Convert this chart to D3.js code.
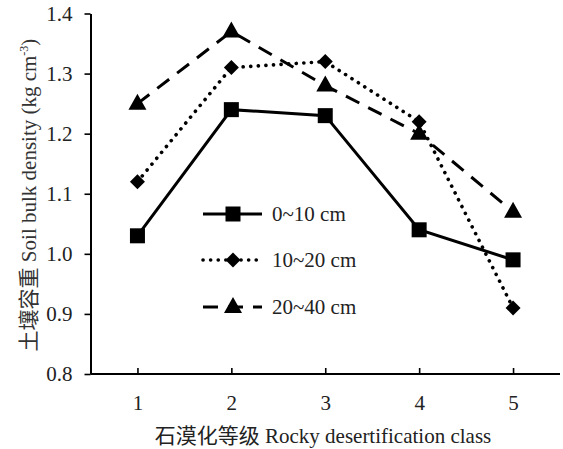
<!DOCTYPE html>
<html><head><meta charset="utf-8">
<script src="https://cdn.jsdelivr.net/npm/d3@7"></script>
<style>
body{margin:0;background:#fff;}
svg text{font-family:"Liberation Serif","Times New Roman","Noto Sans CJK SC",serif !important;}
</style></head>
<body>
<svg id="c" width="563" height="449"></svg>
<script>
const categories = ["1","2","3","4","5"];
const yTicks = [0.8,0.9,1.0,1.1,1.2,1.3,1.4];
const seriesNames = ["0~10 cm","10~20 cm","20~40 cm"];
const s0_10 = [1.03,1.24,1.23,1.04,0.99];
const s10_20 = [1.12,1.31,1.32,1.22,0.91];
const s20_40 = [1.25,1.37,1.28,1.20,1.07];
const xTitle = "石漠化等级 Rocky desertification class";

const FONT = '"Liberation Serif","Times New Roman","Noto Sans CJK SC",serif';
const svg = d3.select("#c");
const L=90.5, R=560, T=13.5, B=374;
const x = d3.scalePoint().domain(categories).range([L,R]).padding(0.5);
const y = d3.scaleLinear().domain([0.8,1.4]).range([B,T]);

const yAx = svg.append("g").attr("transform",`translate(${L},0)`)
  .call(d3.axisLeft(y).tickValues(yTicks).tickFormat(d3.format(".1f")).tickSize(6).tickSizeOuter(0));
const xAx = svg.append("g").attr("transform",`translate(0,${B})`)
  .call(d3.axisBottom(x).tickSize(-6).tickSizeOuter(0));
[yAx,xAx].forEach(g=>{
  g.attr("font-family",FONT);
  g.select(".domain").attr("stroke","#000").attr("stroke-width",2);
  g.selectAll(".tick line").attr("stroke","#000").attr("stroke-width",1.6);
  g.selectAll("text").style("font-size","21px").style("font-family",FONT).attr("fill","#222");
});
xAx.select(".domain").attr("d",`M${L},0H${R}`);
yAx.selectAll(".tick text").attr("x",-18);
xAx.selectAll(".tick text").attr("y",21);

const styles = [
  {dash:null, cap:"butt", w:3, marker:"square"},
  {dash:"0.1 7.5", cap:"round", w:3.6, marker:"diamond"},
  {dash:"15 10", cap:"butt", w:3, marker:"triangle"}
];
const data = [s0_10,s10_20,s20_40];
const line = d3.line().x((d,i)=>x(categories[i])).y(d=>y(d));

function drawMarker(g,type,cx,cy){
  if(type==="square"){
    g.append("rect").attr("x",cx-7.5).attr("y",cy-7.5).attr("width",15).attr("height",15).attr("fill","#000");
  } else if(type==="diamond"){
    g.append("path").attr("d","M0,-7.5L7.5,0L0,7.5L-7.5,0Z").attr("transform",`translate(${cx},${cy})`).attr("fill","#000");
  } else {
    g.append("path").attr("d",`M0,-10L9,6L-9,6Z`).attr("transform",`translate(${cx},${cy})`).attr("fill","#000");
  }
}

data.forEach((vals,k)=>{
  const st = styles[k];
  svg.append("path").datum(vals).attr("d",line).attr("fill","none").attr("stroke","#000")
    .attr("stroke-width",st.w).attr("stroke-dasharray",st.dash).attr("stroke-linecap",st.cap);
});
data.forEach((vals,k)=>{
  const g = svg.append("g");
  vals.forEach((v,i)=>drawMarker(g,styles[k].marker,x(categories[i]),y(v)));
});

const legRows=[214,260,307];
seriesNames.forEach((n,k)=>{
  const st=styles[k], yy=legRows[k];
  svg.append("line").attr("x1",203).attr("x2",262).attr("y1",yy).attr("y2",yy)
    .attr("stroke","#000").attr("stroke-width",st.w).attr("stroke-dasharray",st.dash).attr("stroke-linecap",st.cap);
  drawMarker(svg.append("g"),st.marker,233,yy);
  svg.append("text").attr("x",272).attr("y",yy+7).style("font-size","21px").style("font-family",FONT).attr("fill","#222").text(n);
});

svg.append("text").attr("x",323).attr("y",443).attr("text-anchor","middle").style("font-size","21px").style("font-family",FONT).attr("fill","#222").text(xTitle);
const yt = svg.append("text").attr("transform","translate(36,195) rotate(-90)").attr("text-anchor","middle")
  .style("font-size","21px").style("font-family",FONT).attr("fill","#333");
yt.append("tspan").text("土壤容重 Soil bulk density (kg cm");
yt.append("tspan").attr("dy",-8).style("font-size","12px").text("-3");
yt.append("tspan").attr("dy",8).text(")");
</script>
</body></html>
